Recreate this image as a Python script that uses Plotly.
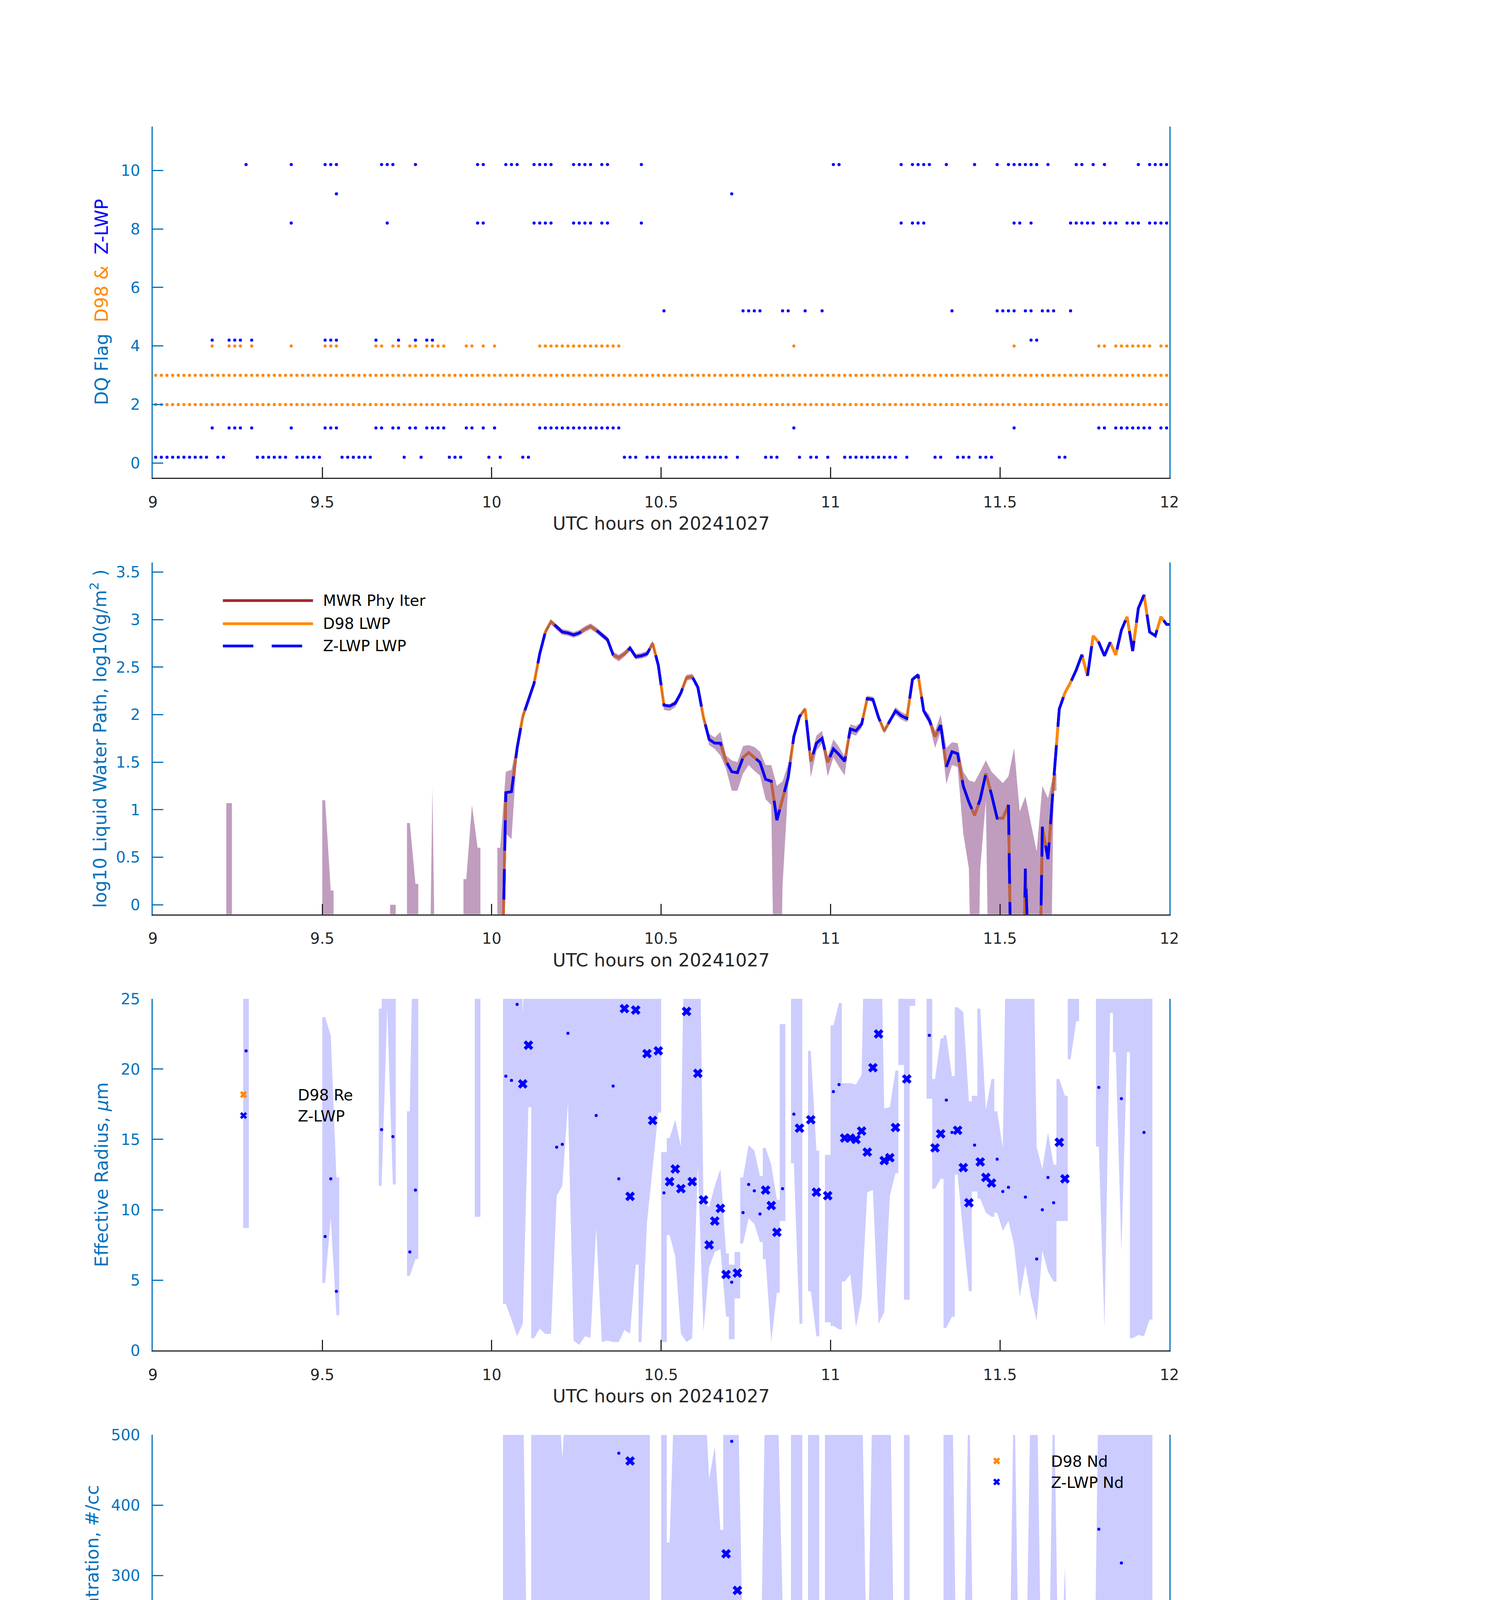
import plotly.graph_objects as go

W, H = 3825, 6000
FONT = "DejaVu Sans"
AX_BLUE = "#0072BD"
DARK = "#262626"
ORANGE = "#FF8800"
BLUE = "#0000FF"
BROWN = "#A52A2A"
BAND = "#CCCCFF"
LWP_BAND = "rgba(130,60,125,0.5)"

# panel i is drawn in slot SLOT[i] (top to bottom)
SLOT = [0, 1, 2, 3, 4]

# ---------------- time grid: one sample per minute after 09:00 UTC -------------
N_MIN = 181
def tm(k):
    return 9 + (k + 0.5) / 60.0
HALF = 0.5 / 60.0

# ---------------- panel 1 : data-quality flags (minute indices) ----------------
d98_flag_all = [2, 3]
d98_flag4 = [10, 13, 14, 15, 17, 24, 30, 31, 32, 39, 40, 42, 43, 45, 46, 48, 49, 50, 51, 55, 56, 58, 60, 68, 69,
             70, 71, 72, 73, 74, 75, 76, 77, 78, 79, 80, 81, 82, 113, 152, 167, 168,
             170, 171, 172, 173, 174, 175, 176, 178, 179, 180]
zlwp_flag0 = [0, 1, 2, 3, 4, 5, 6, 7, 8, 9, 11, 12, 18, 19, 20, 21, 22, 23, 25, 26, 27, 28, 29,
              33, 34, 35, 36, 37, 38, 44, 47, 52, 53, 54, 59, 61, 65, 66, 83, 84, 85, 87, 88, 89,
              91, 92, 93, 94, 95, 96, 97, 98, 99, 100, 101, 103, 108, 109, 110, 114, 116, 117, 119,
              122, 123, 124, 125, 126, 127, 128, 129, 130, 131, 133, 138, 139, 142, 143, 144,
              146, 147, 148, 160, 161]
zlwp_flag1 = [10, 13, 14, 15, 17, 24, 30, 31, 32, 39, 40, 42, 43, 45, 46, 48, 49, 50, 51, 55, 56, 58, 60, 68, 69,
              70, 71, 72, 73, 74, 75, 76, 77, 78, 79, 80, 81, 82, 113, 152, 167, 168,
              170, 171, 172, 173, 174, 175, 176, 178, 179, 180]
zlwp_flag4 = [10, 13, 14, 15, 17, 30, 31, 32, 39, 43, 46, 48, 49, 155, 156]
zlwp_flag5 = [90, 104, 105, 106, 107, 111, 112, 115, 118, 141, 149, 150, 151, 152, 154, 155, 157, 158, 159, 162]
zlwp_flag8 = [24, 41, 57, 58, 67, 68, 69, 70, 74, 75, 76, 77, 79, 80, 86, 132, 134, 135, 136, 152, 153, 155,
              162, 163, 164, 165, 166, 168, 169, 170, 172, 173, 174, 176, 177, 178, 179, 180]
zlwp_flag9 = [32, 102]
zlwp_flag10 = [16, 24, 30, 31, 32, 40, 41, 42, 46, 57, 58, 62, 63, 64, 67, 68, 69, 70, 74, 75, 76, 77, 79, 80,
               86, 120, 121, 132, 134, 135, 136, 137, 140, 145, 149, 151, 152, 153, 154, 155, 156, 158,
               163, 164, 166, 168, 174, 176, 177, 178, 179, 180]
zlwp_flags = {0: zlwp_flag0, 1: zlwp_flag1, 4: zlwp_flag4, 5: zlwp_flag5,
              8: zlwp_flag8, 9: zlwp_flag9, 10: zlwp_flag10}
ZLWP_FLAG_OFFSET = 0.2

# ---------------- panel 2 : log10 LWP (minutes 61..180) -------------------------
lwp_k0 = 61
zlwp_lwp = [-2.0, 1.18, 1.19, 1.65, 1.98, 2.16, 2.33, 2.64, 2.87, 2.98,
            2.92, 2.87, 2.86, 2.84, 2.86, 2.90, 2.93, 2.89, 2.84, 2.79,
            2.63, 2.60, 2.64, 2.70, 2.61, 2.62, 2.64, 2.75, 2.52, 2.10,
            2.09, 2.12, 2.23, 2.39, 2.40, 2.29, 1.97, 1.74, 1.70, 1.70,
            1.51, 1.40, 1.39, 1.55, 1.60, 1.55, 1.50, 1.32, 1.30, 0.89,
            1.11, 1.34, 1.77, 1.98, 2.06, 1.51, 1.70, 1.75, 1.50, 1.64,
            1.58, 1.51, 1.85, 1.83, 1.90, 2.17, 2.16, 1.97, 1.83, 1.94,
            2.04, 1.99, 1.96, 2.37, 2.42, 2.04, 1.94, 1.77, 1.89, 1.45,
            1.61, 1.59, 1.25, 1.08, 0.94, 1.11, 1.38, 1.16, 0.91, 0.91,
            1.05, -3.0, -3.0, 0.38, -3.0, -3.0, 0.82, 0.48, 1.30, 2.06,
            2.23, 2.34, 2.47, 2.63, 2.41, 2.83, 2.76, 2.62, 2.76, 2.63,
            2.89, 3.03, 2.67, 3.12, 3.26, 2.87, 2.83, 3.03, 2.95, 2.95]
d98_lwp = [-2.0, 1.18, 1.19, 1.65, 1.98, 2.16, 2.33, 2.64, 2.87, 2.98,
           2.92, 2.87, 2.86, 2.84, 2.86, 2.90, 2.93, 2.89, 2.84, 2.79,
           2.63, 2.60, 2.64, 2.70, 2.61, 2.62, 2.64, 2.75, 2.52, 2.10,
           2.09, 2.12, 2.23, 2.39, 2.40, 2.29, 1.97, 1.74, 1.70, 1.70,
           1.51, 1.40, 1.39, 1.55, 1.60, 1.55, 1.50, 1.32, 1.30, 0.89,
           1.11, 1.34, 1.77, 1.98, 2.06, 1.51, 1.70, 1.75, 1.50, 1.64,
           1.58, 1.51, 1.85, 1.83, 1.90, 2.17, 2.16, 1.97, 1.83, 1.94,
           2.04, 1.99, 1.96, 2.37, 2.42, 2.04, 1.94, 1.77, 1.89, 1.45,
           1.61, 1.59, 1.25, 1.08, 0.94, 1.11, 1.38, 1.16, 0.91, 0.91,
           1.05, -3.0, -3.0, 0.38, -3.0, -3.0, 0.82, 0.48, 1.30, 2.06,
           2.23, 2.34, 2.47, 2.63, 2.41, 2.83, 2.76, 2.62, 2.76, 2.63,
           2.89, 3.03, 2.67, 3.12, 3.26, 2.87, 2.83, 3.03, 2.95, 2.95]
mwr_lwp = list(d98_lwp)

# MWR uncertainty band (minute index, upper, lower)
mwr_band_k = [13, 30, 31, 42, 45, 46, 48, 49, 50, 55, 56, 57] + list(range(61, 160))
mwr_band_hi = [1.07, 1.10, 0.15, 0.00, 0.86, 0.22, -3.0, 1.23, -3.0, 0.27, 1.05, 0.60,
               0.60, 1.40, 1.42, 1.70, 2.01, 2.19, 2.36, 2.67, 2.90, 3.00,
               2.95, 2.90, 2.89, 2.87, 2.89, 2.93, 2.96, 2.92, 2.87, 2.82,
               2.66, 2.63, 2.67, 2.73, 2.64, 2.65, 2.67, 2.78, 2.55, 2.12,
               2.11, 2.15, 2.26, 2.42, 2.43, 2.32, 1.99, 1.80, 1.76, 1.82,
               1.57, 1.52, 1.50, 1.67, 1.68, 1.66, 1.61, 1.47, 1.47, 1.25,
               1.30, 1.48, 1.80, 2.00, 2.08, 1.55, 1.78, 1.83, 1.56, 1.74,
               1.66, 1.56, 1.90, 1.88, 1.93, 2.20, 2.19, 1.99, 1.85, 1.96,
               2.08, 2.03, 2.00, 2.39, 2.44, 2.06, 2.00, 1.83, 2.00, 1.65,
               1.71, 1.70, 1.40, 1.31, 1.29, 1.40, 1.52, 1.40, 1.34, 1.28,
               1.35, 1.65, 0.98, 1.14, 0.85, 0.56, 1.25, 1.12, 1.38]
mwr_band_lo = [-3.0, -3.0, -3.0, -3.0, -3.0, -3.0, -3.0, -3.0, -3.0, -3.0, -3.0, -3.0,
               -3.0, 0.75, 0.69, 1.60, 1.95, 2.13, 2.30, 2.61, 2.84, 2.95,
               2.89, 2.84, 2.83, 2.81, 2.83, 2.87, 2.90, 2.86, 2.81, 2.76,
               2.60, 2.56, 2.61, 2.67, 2.58, 2.59, 2.61, 2.72, 2.49, 2.05,
               2.04, 2.08, 2.19, 2.36, 2.37, 2.25, 1.95, 1.68, 1.64, 1.57,
               1.43, 1.20, 1.20, 1.38, 1.47, 1.41, 1.36, 1.11, 1.05, -3.0,
               0.20, 1.25, 1.74, 1.96, 2.04, 1.34, 1.62, 1.70, 1.35, 1.55,
               1.45, 1.36, 1.80, 1.78, 1.86, 2.15, 2.13, 1.95, 1.80, 1.91,
               2.00, 1.95, 1.92, 2.35, 2.40, 2.00, 1.90, 1.65, 1.82, 1.27,
               1.47, 1.45, 0.75, 0.38, -3.0, 0.38, 1.10, -3.0, -3.0, -3.0,
               -3.0, -3.0, -3.0, -3.0, -3.0, -3.0, -3.0, -3.0, 1.20]

# ---------------- panel 3 : effective radius ------------------------------------
re_x_k = [65, 66, 83, 84, 85, 87, 88, 89, 91, 92, 93, 94, 95, 96, 97, 98, 99, 100, 101, 103,
          108, 109, 110, 114, 116, 117, 119, 122, 123, 124, 125, 126, 127, 128, 129, 130, 131, 133,
          138, 139, 142, 143, 144, 146, 147, 148, 160, 161]
re_x_v = [18.95, 21.7, 24.3, 10.95, 24.2, 21.1, 16.35, 21.3, 12.0, 12.9, 11.5, 24.1, 12.0, 19.7, 10.7, 7.5,
          9.2, 10.1, 5.4, 5.5, 11.4, 10.3, 8.4, 15.8, 16.4, 11.25, 11.0, 15.1, 15.1, 15.0, 15.6, 14.1,
          20.1, 22.5, 13.5, 13.7, 15.85, 19.3, 14.4, 15.4, 15.65, 13.0, 10.5, 13.4, 12.3, 11.9, 14.8, 12.2]
re_dot_k = [16, 30, 31, 32, 40, 42, 45, 46, 62, 63, 64, 71, 72, 73, 78, 81, 82, 90, 102, 104, 105, 106,
            107, 111, 113, 120, 121, 137, 140, 141, 145, 149, 150, 151, 154, 156, 157, 158, 159, 167, 171, 175]
re_dot_v = [21.3, 8.1, 12.2, 4.2, 15.7, 15.2, 7.0, 11.4, 19.5, 19.2, 24.6, 14.45, 14.65, 22.55, 16.7, 18.8,
            12.2, 11.2, 4.85, 9.8, 11.8, 11.35, 9.7, 11.5, 16.8, 18.4, 18.9, 22.4, 17.8, 15.5, 14.6, 13.6,
            11.3, 11.6, 10.9, 6.5, 10.0, 12.3, 10.5, 18.7, 17.9, 15.5]
d98_re_k = []
d98_re_v = []
re_band_k = [16, 30, 31, 32, 40, 41, 42, 45, 46, 57, 62, 63, 64, 65, 66,
             67, 68, 69, 70, 71, 72, 73, 74, 75, 76, 77, 78, 79, 80, 81, 82, 83, 84, 85,
             86, 87, 88, 89, 90, 91, 92, 93, 94, 95, 96, 97, 98, 99, 100, 101, 102, 103,
             104, 105, 106, 107, 108, 109, 110, 111, 113, 114, 116, 117, 119, 120, 121,
             122, 123, 124, 125, 126, 127, 128, 129, 130, 131, 132, 133, 134, 137, 138, 139,
             140, 141, 142, 143, 144, 145, 146, 147, 148, 149, 150, 151, 152, 153, 154, 155,
             156, 157, 158, 159, 160, 161, 162, 163, 167, 168, 169, 170, 171, 172, 173, 174, 175, 176]
re_band_hi = [40, 23.7, 22.4, 12.3, 24.3, 40, 40, 17.0, 40, 40, 40, 40, 40, 23.8, 40,
              40, 40, 40, 40, 40, 40, 40, 40, 40, 40, 40, 40, 40, 40, 40, 40, 40, 40, 40,
              40, 40, 40, 40, 14.1, 15.1, 16.4, 14.5, 40, 40, 40, 10.5, 10.2, 11.7, 12.9, 6.9, 6.1, 7.0,
              12.3, 14.6, 14.2, 12.4, 14.4, 13.2, 10.7, 23.2, 40, 40, 21.3, 14.2, 13.9, 23.1, 24.7,
              19.0, 19.0, 18.9, 19.6, 40, 40, 40, 17.2, 17.3, 19.9, 40, 40, 40, 40, 19.3, 22.2,
              22.4, 19.5, 24.4, 24.05, 17.7, 18.1, 24.3, 17.1, 19.3, 17.0, 14.4, 40, 40, 40, 40, 40,
              14.45, 12.9, 15.5, 13.2, 19.3, 18.1, 40, 40, 40, 40, 40, 40, 40, 40, 40, 40, 40, 40]
re_band_lo = [8.7, 4.8, 9.4, 2.5, 11.7, 24.3, 11.8, 5.3, 6.5, 9.5, 3.3, 2.2, 1.0, 1.9, 17.3,
              0.87, 1.55, 1.16, 1.2, 11.0, 11.7, 17.6, 0.7, 0.4, 1.0, 0.9, 8.7, 0.6, 0.7, 0.6, 0.6, 1.45, 1.2, 6.1,
              0.6, 9.1, 13.0, 16.9, 0.6, 8.2, 6.7, 1.2, 0.6, 0.87, 13.2, 1.36, 5.9, 7.0, 7.2, 2.4, 0.8, 3.7,
              7.6, 9.4, 9.0, 7.7, 6.5, 0.6, 4.1, 9.2, 13.3, 1.9, 4.2, 1.0, 2.0, 1.75, 1.5,
              4.9, 5.4, 1.65, 3.7, 11.25, 11.4, 1.9, 2.7, 11.0, 12.6, 20.3, 3.6, 24.5, 17.9, 11.5, 12.2,
              1.6, 2.4, 12.5, 8.2, 4.2, 11.3, 10.8, 9.8, 9.5, 9.8, 8.5, 9.2, 7.5, 3.8, 6.1, 3.8,
              2.1, 7.1, 5.6, 4.9, 9.2, 9.2, 20.7, 23.4, 14.5, 1.6, 24.0, 21.2, 7.0, 21.2, 0.87, 1.1, 1.0, 2.2]
re_band_breaks = [67, 86, 90, 91, 102, 103, 104, 108, 111, 120, 122, 132, 133, 134, 138, 140, 142,
                  145, 146, 149, 160, 162, 170, 173]

# ---------------- panel 4 : droplet concentration --------------------------------
nd_x_k = re_x_k
nd_x_v = [16.6, 10.4, 13.5, 463, 9, 98.7, 239, 19, 45, 65, 47, 7, 166, 52, 166, 179, 126, 86, 331, 279,
          21, 46, 29, 51, 8, 46, 34, 17, 36, 23, 29, 57, 37, 10, 19, 19, 13.5, 8,
          24, 17, 12, 15.5, 17, 8.5, 15.5, 11, 34, 92]
nd_dot_k = [16, 24, 30, 31, 32, 40, 41, 42, 45, 46, 57, 58, 62, 63, 64, 67, 68, 69, 70, 71, 72, 73, 74, 75,
            76, 77, 78, 79, 80, 81, 82, 86, 90, 102, 104, 105, 106, 107, 111, 113, 120, 121, 132, 134, 135,
            136, 137, 140, 141, 145, 149, 150, 151, 152, 153, 154, 155, 156, 157, 158, 159, 162, 163, 164,
            165, 166, 167, 168, 169, 170, 171, 172, 173, 174, 176, 177, 178, 179, 180]
nd_dot_v = [0, 0, 2, 0, 5, 0, 0, 0, 6.6, 0, 0, 0, 3, 4, 3, 2, 1, 1, 4.6, 255, 233, 141, 3, 2,
            3, 3, 194, 1, 1, 87, 474, 5, 64.6, 491, 59, 20, 34, 45, 8, 13, 4, 5, 2, 3, 0,
            0, 5, 5, 17, 5, 2, 5, 4, 0, 0, 2, 0, 2, 6.6, 2, 26, 8, 5, 4,
            10, 2, 366, 3, 28, 8, 318, 34, 5, 1, 1, 2, 1, 1, 1]
d98_nd_k = []
d98_nd_v = []
nd_band_k = [30, 31, 32, 45, 46, 57, 58, 62, 63, 64, 65, 66,
             67, 68, 69, 70, 71, 72, 73, 74, 75, 76, 77, 78, 79, 80, 81, 82, 83, 84, 85, 86, 87,
             90, 91, 92, 93, 94, 95, 96, 97, 98, 99, 100, 101, 102, 103, 104, 105, 106, 107, 108, 109, 110, 111,
             113, 114, 116, 117, 119, 120, 121, 122, 123, 124, 125, 126, 127, 128, 129, 130, 131, 132,
             133, 134, 135, 136, 137, 138, 139, 140, 141, 142, 143, 144, 145, 146, 147, 148, 149, 150,
             151, 152, 153, 154, 155, 156, 157, 158, 159, 160, 161, 162, 163, 164, 165, 166, 167, 168,
             169, 170, 171, 172, 173, 174, 175, 176]
nd_band_hi = [21, 2, 90, 25, 2, 9, 1, 600, 600, 600, 600, 20,
              600, 600, 600, 600, 600, 467, 600, 600, 600, 600, 600, 600, 600, 600, 600, 600, 600, 600, 600, 600, 600,
              600, 347, 600, 600, 600, 600, 600, 600, 437, 484, 365, 600, 600, 600, 186, 25, 72, 92, 600, 600, 600, 262,
              600, 600, 600, 600, 600, 600, 600, 600, 600, 600, 600, 118, 600, 600, 600, 600, 25, 15,
              600, 5, 5, 5, 5, 49, 37, 600, 600, 27, 93, 600, 27, 33, 34, 33, 32, 29,
              39, 600, 58, 83, 600, 600, 46, 51, 600, 67, 313, 13, 10, 6, 18, 4, 600, 600,
              600, 600, 600, 600, 600, 600, 600, 600]
nd_band_lo = [0, 0, 0, 0, 0, 0, 0, 0.5, 0.5, 1, 9, 9,
              3, 1, 1, 2, 3, 3, 2, 2, 2, 2, 2, 2, 2, 2, 10, 17, 15, 8, 5, 4, 4,
              32, 15, 18, 12, 0, 0, 2, 15, 89, 65, 39, 147, 177, 120, 29, 12, 20, 25, 14, 10, 8, 0,
              25, 3, 3, 23, 3, 3, 5, 5, 17, 13, 19, 4, 10, 6, 3, 10, 10, 5,
              5, 0, 0, 0, 0, 2, 2, 8, 13, 5, 5, 5, 3, 3, 5, 3, 0, 0,
              0, 0, 0, 0, 0, 0, 0, 0, 5, 10, 15, 3, 2, 1, 2, 0, 1, 1,
              20, 2, 2, 2, 2, 2, 2, 2]
nd_band_breaks = [67, 91, 101, 122, 133, 134, 140]

# ---------------- panel 5 : optical depth ---------------------------------------
od_x_k = re_x_k
od_x_v = [7.7, 9.75, 28.5, 70.3, 25.8, 31.2, 52.6, 20.2, 16.7, 16.1, 20.6, 15.3, 32.0, 14.6, 13.8, 11.5,
          8.5, 7.4, 9.0, 6.8, 2.9, 3.3, 1.4, 9.3, 2.9, 7.0, 4.5, 3.3, 7.2, 6.8, 8.1, 16.3,
          10.7, 6.2, 7.6, 9.9, 10.7, 7.2, 6.2, 8.0, 4.1, 2.0, 1.8, 1.5, 3.3, 1.8, 11.8, 22.1]
od_dot_k = [16, 24, 30, 31, 32, 40, 41, 42, 45, 46, 57, 58, 62, 63, 64, 67, 68, 69, 70, 71, 72, 73, 74, 75,
            76, 77, 78, 79, 80, 81, 82, 86, 90, 102, 104, 105, 106, 107, 111, 113, 120, 121, 132, 134, 135,
            136, 137, 140, 141, 145, 149, 150, 151, 152, 153, 154, 155, 156, 157, 158, 159, 162, 163, 164,
            165, 166, 167, 168, 169, 170, 171, 172, 173, 174, 176, 177, 178, 179, 180]
od_dot_v = [0, 0, 0.1, 0.1, 0.1, 0, 0, 0, 0.1, 0, 0, 0, 1.2, 1.4, 3.3, 8.7, 11.5, 21.1, 39.5, 90, 79, 48.8,
            29.3, 25.6, 29.9, 30.6, 72, 20.9, 16.5, 34.5, 49, 19.6, 17.6, 8.2, 6.0, 5.1, 4.9, 5.3, 2.0, 5.3,
            3.7, 3.1, 5.9, 11.3, 6.7, 3.9, 5.6, 2.6, 4.1, 1.0, 1.0, 1.2, 1.8, 0.1, 0.1, 0.5, 0.1, 0.1, 1.2,
            0.5, 4.9, 14.2, 16.9, 16.9, 12.5, 17.4, 45.9, 16.3, 32.1, 16.3, 66.8, 48.8, 23.6, 22.1, 15.3,
            20.4, 20.5, 18.0, 19.8]
d98_od_k = []
d98_od_v = []
od_band_k = [30, 31, 32, 45, 46, 57, 58, 62, 63, 64, 65, 66,
             67, 68, 69, 70, 71, 72, 73, 74, 75, 76, 77, 78, 79, 80, 81, 82, 83, 84, 85,
             86, 87, 88, 89, 90, 91, 92, 93, 94, 95, 96, 97, 98, 99, 100, 101, 102, 103, 104, 105, 106,
             107, 108, 109, 110, 111, 113, 114, 116, 117, 119, 120, 121, 122, 123, 124, 125, 126, 127,
             128, 129, 130, 131, 132, 133, 134, 135, 136, 137, 138, 139, 140, 141, 142, 143, 144, 145,
             146, 147, 148, 149, 150, 151, 152, 153, 154, 155, 156, 157, 158, 159, 160, 161, 162, 163,
             164, 165, 166, 167, 168, 169, 170, 171, 172, 173, 174, 175, 176, 177, 178, 179, 180]
od_band_hi = [0.3, 0.3, 0.3, 0.3, 0.3, 0.5, 0.5, 7.0, 10.3, 81, 75, 12.2,
              150, 150, 150, 150, 150, 150, 63, 150, 150, 150, 150, 150, 150, 150, 150, 150, 150, 150, 150,
              150, 75.3, 65.6, 25.4, 150, 23.8, 30.8, 150, 150, 150, 150, 150, 15.3, 13.5, 11.8, 20, 52, 10.7,
              10.4, 8.2, 7.8, 5.9, 5.0, 67, 4.5, 4.5, 6.5, 77, 11.8, 80.5, 24.3, 38, 12.2, 10.3, 20.7, 65, 33,
              20.7, 20, 71.4, 40.5, 13, 13.8, 7.6, 40.7, 14.2, 8.4, 4.5, 6.6, 8.2, 10.1, 27.3, 25.5, 4.5, 4.3,
              4.3, 2.0, 2.5, 4.0, 3.6, 3.3, 3.5, 3.9, 9.5, 3.8, 3.7, 2.4, 2.0, 3.7, 2.3, 10, 15.2, 29.5, 15.8,
              21.4, 20.9, 15.7, 19.5, 150, 150, 25, 150, 150, 75, 150, 150, 150, 150, 25.5, 25.8, 23.1, 24.6]
od_band_lo = [0, 0, 0, 0, 0, 0, 0, 0.5, 0.5, 2.6, 6.0, 5.1,
              7.0, 9.1, 16.9, 31.2, 33.1, 22.4, 22.4, 23.2, 20.4, 23.8, 24.4, 24.2, 16.9, 13.2, 16.9, 25.8,
              22.7, 32, 20.6,
              15.6, 15.3, 17.6, 12.6, 12.6, 13.4, 13.0, 14.6, 12.2, 10.3, 6.7, 9.1, 9.0, 7.4, 4.5, 6.4, 4.3, 4.3,
              3.7, 3.7, 3.5, 3.3, 1.0, 1.0, 0, 0, 3.5, 3.5, 4.1, 4.5, 3.3, 3.0, 3.0, 3.7, 6.0, 5.6, 7.2,
              7.6, 5.3, 2.9, 6.0, 8.0, 9.1, 5.0, 5.2, 6.0, 5.4, 3.0, 4.8, 5.0, 5.6, 1.8, 2.4, 2.1, 1.0,
              1.0, 0.5, 0.8, 2.4, 1.0, 0.6, 0.8, 0.8, 0.5, 0.3, 0.4, 0.1, 0.1, 0.8, 0.3, 2.8, 8.2, 15.3, 11.5,
              14.2, 14.5, 6.9, 10.2, 8.4, 13.4, 10, 8.4, 19.4, 17.3, 20.0, 17.6, 19.7, 12.2, 16.5, 16.5, 14.6, 16.0]
od_band_breaks = [67, 86, 90, 91, 102, 103, 132, 140, 142, 162]

x_ticks = [9, 9.5, 10, 10.5, 11, 11.5, 12]
x_tick_text = ["9", "9.5", "10", "10.5", "11", "11.5", "12"]
x_title = "UTC hours on 20241027"


# ---------------- helpers --------------------------------------------------------
def band_polys(ks, his, los, breaks):
    segs, cur, prev = [], [], None
    for k, h, l in zip(ks, his, los):
        if prev is not None and (k != prev + 1 or k in breaks):
            segs.append(cur)
            cur = []
        cur.append((k, h, l))
        prev = k
    if cur:
        segs.append(cur)
    xs, ys = [], []
    for seg in segs:
        t = [tm(k) for k, _, _ in seg]
        hi = [h for _, h, _ in seg]
        lo = [l for _, _, l in seg]
        xs += [t[0] - HALF] + t + [t[-1] + HALF] + [t[-1] + HALF] + t[::-1] + [t[0] - HALF] + [None]
        ys += [hi[0]] + hi + [hi[-1]] + [lo[-1]] + lo[::-1] + [lo[0]] + [None]
    return xs, ys


fig = go.Figure()

# panel 1
fig.add_trace(go.Scatter(x=[tm(k) for f in d98_flag_all for k in range(N_MIN)],
                         y=[f for f in d98_flag_all for k in range(N_MIN)],
                         mode="markers", marker=dict(color=ORANGE, size=8), cliponaxis=False,
                         showlegend=False, xaxis="x", yaxis="y"))
fig.add_trace(go.Scatter(x=[tm(k) for k in d98_flag4], y=[4 for k in d98_flag4],
                         mode="markers", marker=dict(color=ORANGE, size=8), cliponaxis=False,
                         showlegend=False, xaxis="x", yaxis="y"))
zx, zy = [], []
for f, ks in zlwp_flags.items():
    zx += [tm(k) for k in ks]
    zy += [f + ZLWP_FLAG_OFFSET for k in ks]
fig.add_trace(go.Scatter(x=zx, y=zy, mode="markers", marker=dict(color=BLUE, size=8), cliponaxis=False,
                         showlegend=False, xaxis="x", yaxis="y"))

# panel 2
t_lwp = [tm(lwp_k0 + i) for i in range(len(zlwp_lwp))]
fig.add_trace(go.Scatter(x=t_lwp, y=mwr_lwp, mode="lines", line=dict(color=BROWN, width=7),
                         name="MWR Phy Iter", showlegend=False, xaxis="x2", yaxis="y2"))
fig.add_trace(go.Scatter(x=t_lwp, y=d98_lwp, mode="lines", line=dict(color=ORANGE, width=7),
                         name="D98 LWP", showlegend=False, xaxis="x2", yaxis="y2"))
bx, by = band_polys(mwr_band_k, mwr_band_hi, mwr_band_lo, [])
fig.add_trace(go.Scatter(x=bx, y=by, mode="lines", fill="toself", fillcolor=LWP_BAND,
                         line=dict(width=0, color=LWP_BAND), showlegend=False, hoverinfo="skip",
                         xaxis="x2", yaxis="y2"))
fig.add_trace(go.Scatter(x=t_lwp, y=zlwp_lwp, mode="lines", line=dict(color=BLUE, width=7, dash="78px,47px"),
                         name="Z-LWP LWP", showlegend=False, xaxis="x2", yaxis="y2"))

# panels 3-5
panels = [
    ("x3", "y3", "legend", re_band_k, re_band_hi, re_band_lo, re_band_breaks,
     re_dot_k, re_dot_v, re_x_k, re_x_v, d98_re_k, d98_re_v, "D98 Re", "Z-LWP"),
    ("x4", "y4", "legend2", nd_band_k, nd_band_hi, nd_band_lo, nd_band_breaks,
     nd_dot_k, nd_dot_v, nd_x_k, nd_x_v, d98_nd_k, d98_nd_v, "D98 Nd", "Z-LWP Nd"),
    ("x5", "y5", "legend3", od_band_k, od_band_hi, od_band_lo, od_band_breaks,
     od_dot_k, od_dot_v, od_x_k, od_x_v, d98_od_k, d98_od_v, "D98 OD", "Z-LWP Nd"),
]
for (xa, ya, lg, bk, bh, bl, bb, dk, dv, xk, xv, d98k, d98v, n1, n2) in panels:
    bx, by = band_polys(bk, bh, bl, bb)
    fig.add_trace(go.Scatter(x=bx, y=by, mode="lines", fill="toself", fillcolor=BAND,
                             line=dict(width=0, color=BAND), showlegend=False, hoverinfo="skip",
                             xaxis=xa, yaxis=ya))
    fig.add_trace(go.Scatter(x=[tm(k) for k in dk], y=dv, mode="markers",
                             marker=dict(color=BLUE, size=8), cliponaxis=False, showlegend=False,
                             xaxis=xa, yaxis=ya))
    fig.add_trace(go.Scatter(x=[tm(k) for k in d98k] or [None], y=d98v or [None], mode="markers",
                             marker=dict(color=ORANGE, size=22, symbol="x"), name=n1, legend=lg,
                             cliponaxis=False, xaxis=xa, yaxis=ya))
    fig.add_trace(go.Scatter(x=[tm(k) for k in xk], y=xv, mode="markers",
                             marker=dict(color=BLUE, size=22, symbol="x"), name=n2, legend=lg,
                             cliponaxis=False, xaxis=xa, yaxis=ya))

# ---------------- layout -------------------------------------------------------------
X0, X1 = 375 / W, 3003 / W
slot_px = [(296, 1202), (1421, 2328), (2546, 3453), (3671, 4578), (4796, 5703)]
panel_px = [slot_px[s] for s in SLOT]
DY = [slot_px[s][0] - slot_px[i][0] for i, s in enumerate(SLOT)]
y_ranges = [[-0.5, 11.5], [-0.1, 3.6], [0, 25], [0, 500], [0, 100]]
y_ticks = [[0, 2, 4, 6, 8, 10], [0, 0.5, 1, 1.5, 2, 2.5, 3, 3.5], [0, 5, 10, 15, 20, 25],
           [0, 100, 200, 300, 400, 500], [0, 20, 40, 60, 80, 100]]
y_titles = ["<span style='color:#0072BD'>DQ Flag</span>  <span style='color:#FF8800'>D98 &amp;</span>"
            "  <span style='color:#0000FF'>Z-LWP</span>",
            "log10 Liquid Water Path, log10(g/m<sup>2</sup> )",
            "Effective Radius, <i>\u03bc</i>m",
            "Droplet Concentration, #/cc",
            "Optical Depth"]
y_title_x = [243, 235, 242, 218, 218]

layout = dict(width=W, height=H, margin=dict(l=0, r=0, t=0, b=0),
              paper_bgcolor="white", plot_bgcolor="white",
              font=dict(family=FONT, size=39, color=DARK), showlegend=True)
annotations = []
for i, ((top, bot), yr, yt) in enumerate(zip(panel_px, y_ranges, y_ticks)):
    sx = "" if i == 0 else str(i + 1)
    layout["xaxis" + sx] = dict(domain=[X0, X1], anchor="y" + sx, range=[9, 12], tickvals=x_ticks,
                                ticktext=x_tick_text, ticks="inside", ticklen=27, tickwidth=2.5,
                                tickcolor=DARK, showline=True, linecolor=DARK, linewidth=2.5,
                                showgrid=False, zeroline=False, tickfont=dict(size=39, color=DARK),
                                ticklabelstandoff=26)
    layout["yaxis" + sx] = dict(domain=[1 - bot / H, 1 - top / H], anchor="x" + sx, range=yr,
                                tickvals=yt, ticks="inside", ticklen=27, tickwidth=2.5,
                                tickcolor=AX_BLUE, showline=True, linecolor=AX_BLUE, linewidth=2.5,
                                mirror=True, showgrid=False, zeroline=False,
                                tickfont=dict(size=39, color=AX_BLUE), ticklabelstandoff=22)
    annotations.append(dict(text=x_title, x=(375 + 3003) / 2 / W, y=1 - (bot + 118) / H,
                            xref="paper", yref="paper", showarrow=False, xanchor="center", yanchor="middle",
                            font=dict(size=46, color=DARK)))
    annotations.append(dict(text=y_titles[i], x=y_title_x[i] / W, y=1 - (top + bot) / 2 / H,
                            xref="paper", yref="paper", showarrow=False, textangle=-90,
                            xanchor="center", yanchor="middle", font=dict(size=46, color=AX_BLUE)))

# panel-2 legend (drawn as lines and labels)
leg_rows = [1519, 1578.5, 1636]
leg_names = ["MWR Phy Iter", "D98 LWP", "Z-LWP LWP"]
leg_styles = [dict(color=BROWN, width=7), dict(color=ORANGE, width=7),
              dict(color=BLUE, width=7, dash="78px,47px")]
shapes = []
for yy, nm, st in zip(leg_rows, leg_names, leg_styles):
    yy = yy + DY[1]
    shapes.append(dict(type="line", xref="paper", yref="paper", x0=556 / W, x1=789 / W,
                       y0=1 - yy / H, y1=1 - yy / H, line=st))
    annotations.append(dict(text=nm, x=813 / W, y=1 - yy / H, xref="paper", yref="paper",
                            showarrow=False, xanchor="left", yanchor="middle",
                            font=dict(size=39, color="black")))
layout["annotations"] = annotations
layout["shapes"] = shapes

# marker legends: symbol centre ~ x+15+itemwidth/2, text ~ x+itemwidth+22
IW = 268
leg_common = dict(bgcolor="rgba(0,0,0,0)", borderwidth=0, font=dict(size=39, color="black"),
                  itemwidth=IW, xanchor="left", yanchor="top", tracegroupgap=0)
layout["legend"] = dict(leg_common, x=(618 - 15 - IW / 2) / W, y=1 - (2791 - 30 + DY[2]) / H)
layout["legend2"] = dict(leg_common, x=(2565 - 15 - IW / 2) / W, y=1 - (3736 - 30 + DY[3]) / H)
layout["legend3"] = dict(leg_common, x=(2565 - 15 - IW / 2) / W, y=1 - (4861 - 30 + DY[4]) / H)

fig.update_layout(**layout)
fig.write_html("out.html")
